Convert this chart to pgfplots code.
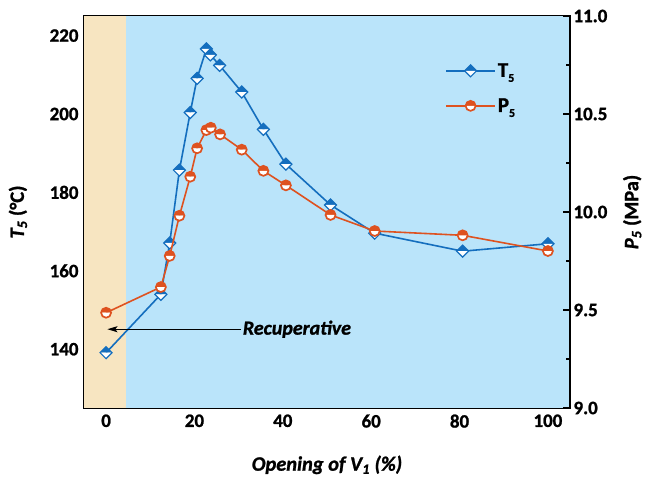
\documentclass[border=0pt]{standalone}
\usepackage{pgfplots}
\pgfplotsset{compat=1.18}
\usepackage{fontspec}
\setmainfont{Carlito}[BoldFeatures={FakeBold=1.2},BoldItalicFeatures={FakeBold=1.2}]
\usetikzlibrary{arrows.meta}
\definecolor{tblue}{RGB}{20,110,190}
\definecolor{porange}{RGB}{222,82,32}
\definecolor{bgblue}{RGB}{186,228,250}
\definecolor{bgbeige}{RGB}{247,229,193}

\pgfdeclareplotmark{halfdiamond}{%
  \pgfpathmoveto{\pgfqpoint{-\pgfplotmarksize}{0pt}}%
  \pgfpathlineto{\pgfqpoint{0pt}{\pgfplotmarksize}}%
  \pgfpathlineto{\pgfqpoint{\pgfplotmarksize}{0pt}}%
  \pgfpathclose
  \pgfsetfillcolor{tblue}\pgfusepath{fill}%
  \pgfpathmoveto{\pgfqpoint{-\pgfplotmarksize}{0pt}}%
  \pgfpathlineto{\pgfqpoint{0pt}{-\pgfplotmarksize}}%
  \pgfpathlineto{\pgfqpoint{\pgfplotmarksize}{0pt}}%
  \pgfpathclose
  \pgfsetfillcolor{white}\pgfusepath{fill}%
  \pgfpathmoveto{\pgfqpoint{-\pgfplotmarksize}{0pt}}%
  \pgfpathlineto{\pgfqpoint{0pt}{\pgfplotmarksize}}%
  \pgfpathlineto{\pgfqpoint{\pgfplotmarksize}{0pt}}%
  \pgfpathlineto{\pgfqpoint{0pt}{-\pgfplotmarksize}}%
  \pgfpathclose
  \pgfsetstrokecolor{tblue}\pgfsetlinewidth{1.2bp}\pgfusepath{stroke}%
}
\pgfdeclareplotmark{halfcircle}{%
  \pgfpathmoveto{\pgfqpoint{\pgfplotmarksize}{0pt}}%
  \pgfpatharc{0}{180}{\pgfplotmarksize}%
  \pgfpathclose
  \pgfsetfillcolor{porange}\pgfusepath{fill}%
  \pgfpathmoveto{\pgfqpoint{-\pgfplotmarksize}{0pt}}%
  \pgfpatharc{180}{360}{\pgfplotmarksize}%
  \pgfpathclose
  \pgfsetfillcolor{white}\pgfusepath{fill}%
  \pgfpathcircle{\pgfpointorigin}{\pgfplotmarksize}%
  \pgfsetstrokecolor{porange}\pgfsetlinewidth{1.7bp}\pgfusepath{stroke}%
}

\pgfplotstableread{
x T
0 139.1
12.4 154.0
14.4 167.1
16.6 185.7
19.05 200.4
20.6 209.1
22.7 216.6
23.6 215.1
25.7 212.4
30.7 205.6
35.6 196.1
40.7 187.2
50.8 176.8
60.8 169.6
80.7 165.0
100 166.9
}\Ttable
\pgfplotstableread{
x P
0 9.486
12.4 9.617
14.4 9.776
16.6 9.981
19.05 10.18
20.6 10.325
22.7 10.418
23.7 10.43
25.8 10.396
30.7 10.318
35.6 10.21
40.7 10.136
50.8 9.985
60.8 9.903
80.7 9.881
100 9.801
}\Ptable

\newcommand{\lsub}[1]{\raisebox{-5bp}{\fontsize{12}{12}\selectfont #1}}

\pgfplotsset{
  common/.style={
    scale only axis, width=486bp, height=392bp,
    xmin=-5, xmax=105,
    axis line style={line width=2.2bp},
    tick style={line width=1.8bp, black},
    major tick length=7bp, minor tick length=4bp,
    tick align=inside,
    /pgf/number format/assume math mode=true,
    tick label style={font=\bfseries\fontsize{19}{19}\selectfont},
    label style={font=\bfseries\fontsize{20.5}{22}\selectfont},
  }
}

\begin{document}
\begin{tikzpicture}
\path[use as bounding box] (-84bp,-73bp) rectangle (567bp,408bp);
\begin{axis}[common,
  at={(0,0)}, anchor=south west,
  ymin=125, ymax=225,
  ytick={140,160,180,200,220},
  minor ytick={130,150,170,190,210},
  xtick={0,20,40,60,80,100},
  minor xtick={10,30,50,70,90},
  ytick pos=left,
  xtick pos=both,
  xticklabel pos=bottom,
  xlabel={\textit{Opening of V\textsubscript{1} (\%)}},
  ylabel={\textit{T\textsubscript{5}} (°C)},
  xlabel style={at={(axis description cs:0.5,-0.145)}, anchor=center},
  ylabel style={at={(axis description cs:-0.136,0.5)}, anchor=center},
  yticklabel style={xshift=-2bp},
  xticklabel style={yshift=-3bp},
  clip=false,
]
\fill[bgbeige] (axis cs:-5,125) rectangle (axis cs:4.4,225);
\fill[bgblue] (axis cs:4.4,125) rectangle (axis cs:105,225);
\addplot[tblue, line width=1.6bp, mark=halfdiamond, mark size=6bp] table[x=x,y=T] {\Ttable};
\draw[-{Stealth[length=10bp,width=6bp,inset=2bp]}, line width=1.1bp] (axis cs:30.5,145.1) -- (axis cs:0.3,145.1);
\node[anchor=west, font=\bfseries\itshape\fontsize{20}{20}\selectfont, inner sep=1bp] at (axis cs:30.7,145.1) {Recuperative};
\end{axis}
\begin{axis}[common,
  at={(0,0)}, anchor=south west,
  ymin=9, ymax=11,
  ytick={9,9.5,10,10.5,11},
  minor ytick={9.25,9.75,10.25,10.75},
  yticklabel style={/pgf/number format/.cd, fixed, fixed zerofill, precision=1},
  axis y line*=right,
  axis x line=none,
  ylabel={\textit{P\textsubscript{5}} (MPa)},
  ylabel style={at={(axis description cs:1.128,0.5)}, anchor=center},
  legend style={draw=none, fill=none, at={(rel axis cs:0.743,0.885)}, anchor=north west,
    font=\bfseries\fontsize{21}{21}\selectfont, row sep=16bp, inner sep=0pt},
  legend cell align=left,
  legend image code/.code={%
    \draw[#1, line width=1.6bp] (0bp,0bp) -- (49bp,0bp);
    \draw[#1, mark repeat=1, line width=1.6bp] plot coordinates {(24.5bp,0bp)};
  },
]
\addlegendimage{tblue, mark=halfdiamond, mark size=6bp}
\addlegendentry{T\lsub{5}}
\addplot[porange, line width=1.6bp, mark=halfcircle, mark size=5bp] table[x=x,y=P] {\Ptable};
\addlegendentry{P\lsub{5}}
\end{axis}
\end{tikzpicture}
\end{document}
